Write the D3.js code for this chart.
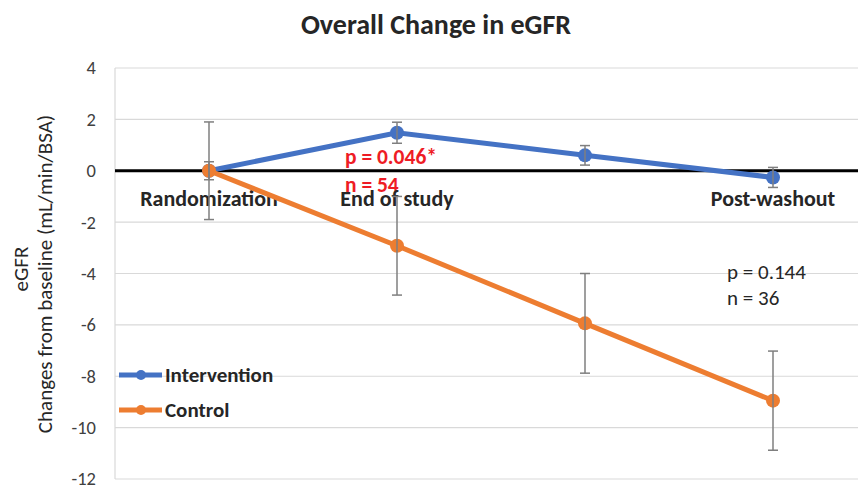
<!DOCTYPE html>
<html>
<head>
<meta charset="utf-8">
<script src="https://cdn.jsdelivr.net/npm/d3@7"></script>
<style>
  body { margin: 0; background: #fff; }
  svg { font-family: Calibri, Carlito, Lato, "Open Sans", sans-serif; }
</style>
</head>
<body>
<svg id="chart" width="858" height="485"></svg>
<script>
// data
const categories = ["Randomization", "End of study", "", "Post-washout"];
const intervention = [0, 1.48, 0.6, -0.26];
const interventionErr = [0.35, 0.41, 0.38, 0.39];
const control = [0, -2.92, -5.94, -8.95];
const controlErr = [1.9, 1.92, 1.94, 1.93];
const yTicks = [4, 2, 0, -2, -4, -6, -8, -10, -12];

const svg = d3.select("#chart");
const plotLeft = 115, plotRight = 867, plotTop = 68, plotBottom = 479;

const x = d3.scalePoint().domain(d3.range(categories.length)).range([plotLeft, plotRight]).padding(0.5);
const y = d3.scaleLinear().domain([-12, 4]).range([plotBottom, plotTop]);

//Title
svg.append("text")
  .attr("x", 436).attr("y", 34)
  .attr("text-anchor", "middle")
  .style("font-size", "28px").style("font-weight", "bold").style("fill", "#262626")
  .text("Overall Change in eGFR");

//Gridlines
svg.append("g").selectAll("line").data(yTicks.filter(d => d != 0)).join("line")
  .attr("x1", plotLeft).attr("x2", 858)
  .attr("y1", d => y(d)).attr("y2", d => y(d))
  .attr("stroke", "#d9d9d9").attr("stroke-width", 1.2);

svg.append("line")
  .attr("x1", plotLeft).attr("x2", plotLeft).attr("y1", plotTop).attr("y2", plotBottom)
  .attr("stroke", "#d9d9d9").attr("stroke-width", 1.2);

//Y axis
const yAxis = svg.append("g")
  .attr("transform", "translate(" + plotLeft + ",0)")
  .call(d3.axisLeft(y).tickValues(yTicks).tickSize(0).tickPadding(19).tickFormat(d => String(d)));
yAxis.select(".domain").remove();
yAxis.selectAll("text").style("font-size", "18.5px").style("fill", "#404040")
  .style("font-family", "Calibri, Carlito, Lato, sans-serif");

//Y axis title
svg.append("text")
  .attr("transform", "translate(28,269) rotate(-90)")
  .attr("text-anchor", "middle")
  .style("font-size", "21px").style("fill", "#262626")
  .text("eGFR");
svg.append("text")
  .attr("transform", "translate(52,274) rotate(-90)")
  .attr("text-anchor", "middle")
  .style("font-size", "21px").style("fill", "#262626")
  .text("Changes from baseline (mL/min/BSA)");

//Annotations (under the category labels, as in the original)
svg.append("text").attr("x", 345).attr("y", 164)
  .style("font-size", "21.5px").style("font-weight", "bold").style("fill", "#ee1c25")
  .text("p = 0.046*");
svg.append("text").attr("x", 345).attr("y", 192)
  .style("font-size", "21.5px").style("font-weight", "bold").style("fill", "#ee1c25")
  .text("n = 54");
svg.append("text").attr("x", 727).attr("y", 279)
  .style("font-size", "21px").style("fill", "#262626")
  .text("p = 0.144");
svg.append("text").attr("x", 727).attr("y", 305)
  .style("font-size", "21px").style("fill", "#262626")
  .text("n = 36");

//Category labels
svg.append("g").selectAll("text").data(categories).join("text")
  .attr("x", (d, i) => x(i)).attr("y", 206)
  .attr("text-anchor", "middle")
  .style("font-size", "22px").style("font-weight", "bold").style("fill", "#262626")
  .text(d => d);

//Zero line
svg.append("line")
  .attr("x1", plotLeft).attr("x2", 858).attr("y1", y(0)).attr("y2", y(0))
  .attr("stroke", "#000").attr("stroke-width", 3);

//Series
const series = [
  { name: "Intervention", values: intervention, err: interventionErr, color: "#4472C4" },
  { name: "Control", values: control, err: controlErr, color: "#ED7D31" }
];

const line = d3.line().x((d, i) => x(i)).y(d => y(d));

series.forEach(s => {
  const g = svg.append("g");
  g.append("path")
    .attr("d", line(s.values))
    .attr("fill", "none").attr("stroke", s.color).attr("stroke-width", 5);
  g.selectAll("circle").data(s.values).join("circle")
    .attr("cx", (d, i) => x(i)).attr("cy", d => y(d)).attr("r", 7)
    .attr("fill", s.color);
});

//Error bars
series.forEach(s => {
  const g = svg.append("g").attr("stroke", "#7f7f7f").attr("stroke-width", 1.5);
  s.values.forEach((v, i) => {
    let cx = x(i);
    g.append("line").attr("x1", cx).attr("x2", cx).attr("y1", y(v + s.err[i])).attr("y2", y(v - s.err[i]));
    [v + s.err[i], v - s.err[i]].forEach(e => {
      g.append("line").attr("x1", cx - 5).attr("x2", cx + 5).attr("y1", y(e)).attr("y2", y(e));
    });
  });
});

//Legend
const legend = svg.append("g");
series.forEach((s, i) => {
  let ly = 375 + i * 35;
  legend.append("line").attr("x1", 119).attr("x2", 162).attr("y1", ly).attr("y2", ly)
    .attr("stroke", s.color).attr("stroke-width", 5);
  legend.append("circle").attr("cx", 141).attr("cy", ly).attr("r", 5).attr("fill", s.color);
  legend.append("text").attr("x", 165).attr("y", ly + 7)
    .style("font-size", "21px").style("font-weight", "bold").style("fill", "#262626")
    .text(s.name);
});
</script>
</body>
</html>
